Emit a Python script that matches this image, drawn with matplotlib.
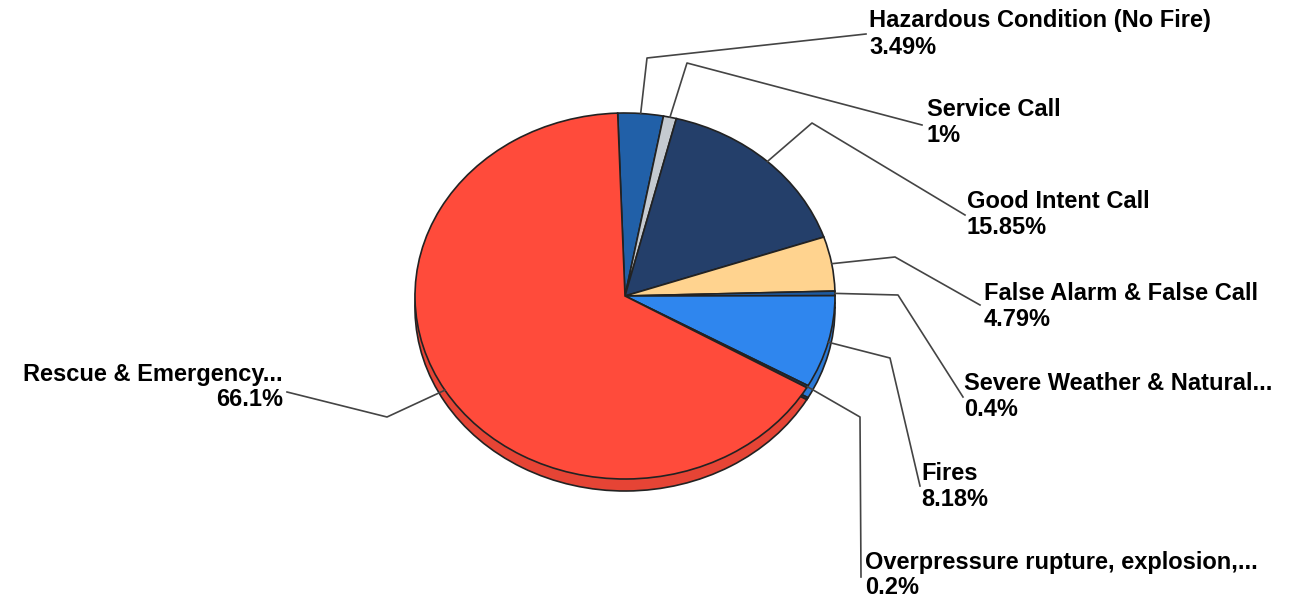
import numpy as np
import matplotlib.pyplot as plt
from matplotlib.colors import to_rgb

plt.rcParams['font.family'] = ['Liberation Sans', 'DejaVu Sans']

categories = [
    'Hazardous Condition (No Fire)',
    'Service Call',
    'Good Intent Call',
    'False Alarm & False Call',
    'Severe Weather & Natural...',
    'Fires',
    'Overpressure rupture, explosion,...',
    'Rescue & Emergency...',
]
percent_labels = ['3.49%', '1%', '15.85%', '4.79%', '0.4%', '8.18%', '0.2%', '66.1%']
shares = [3.49, 1.0, 15.85, 4.79, 0.4, 8.18, 0.2, 66.1]
colors = ['#2160a8', '#c5cad0', '#243f6a', '#ffd38f',
          '#1e5aa0', '#2f86ee', '#1c3a66', '#ff4b3b']

# layout in pixels (figure is 1305 x 603)
W, H = 1305, 603
CX, CY = 625, 296      # centre of the top face
RX, RY = 210, 183      # ellipse radii
DEPTH = 12             # 3d rim thickness
START = 92

# elbow and end of every leader line, then label anchor
elbows = [(647, 58), (687, 63), (812, 123), (895, 257),
          (898, 295), (890, 358), (860, 417), (387, 417)]
ends = [(866, 34), (922, 125), (965, 215), (980, 305),
        (963, 397), (920, 486), (861, 577), (287, 392)]
label_pos = [(869, 21), (927, 110), (967, 201), (984, 293),
             (964, 383), (921, 473), (865, 562), (283, 374)]
LINE_GAP = 26
FS = 17


def px(x, y):
    """pixel position -> data units of the pie axes"""
    return (x - CX) / RX, (CY - y) / RY


def darker(c, f=0.9):
    return tuple(v * f for v in to_rgb(c))


fig = plt.figure(figsize=(W / 100, H / 100), dpi=100)
ax = fig.add_axes([0, 0, 1, 1])

# rim of the 3d pie, drawn first and shifted down
ax.pie(shares, colors=[darker(c) for c in colors], startangle=START,
       counterclock=False, center=(0, -DEPTH / RY), radius=1,
       wedgeprops=dict(edgecolor='#222222', linewidth=1.2, zorder=1))
# top face
wedges, _ = ax.pie(shares, colors=colors, startangle=START, counterclock=False,
                   center=(0, 0), radius=1,
                   wedgeprops=dict(edgecolor='#222222', linewidth=1.2, zorder=2))

ax.set_aspect('auto')
ax.set_xlim(-CX / RX, (W - CX) / RX)
ax.set_ylim(-(H - CY) / RY, CY / RY)
ax.axis('off')

# leader lines + labels
for i, w in enumerate(wedges):
    mid = np.deg2rad((w.theta1 + w.theta2) / 2)
    sx, sy = np.cos(mid), np.sin(mid)
    ex, ey = px(*elbows[i])
    tx, ty = px(*ends[i])
    ax.plot([sx, ex, tx], [sy, ey, ty], color='#444444', lw=1.2, zorder=3)

    lx, ly = label_pos[i]
    ha = 'right' if i == len(wedges) - 1 else 'left'
    ax.text(*px(lx, ly), categories[i], ha=ha, va='center',
            fontsize=FS, fontweight='bold', color='black')
    ax.text(*px(lx, ly + LINE_GAP), percent_labels[i], ha=ha, va='center',
            fontsize=FS, fontweight='bold', color='black')

fig.savefig('out.png', dpi=100, facecolor='white')
